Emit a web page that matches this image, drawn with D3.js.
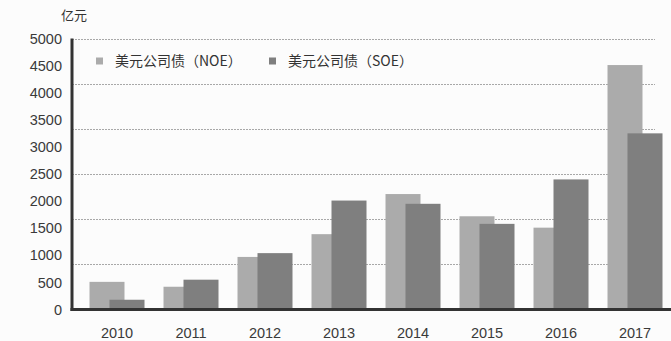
<!DOCTYPE html>
<html>
<head>
<meta charset="utf-8">
<script src="https://cdn.jsdelivr.net/npm/d3@7/dist/d3.min.js"></script>
<style>
  html, body { margin: 0; padding: 0; background: #fcfcfc; }
  svg { display: block; }
</style>
</head>
<body>
<svg id="chart" width="671" height="341"></svg>
<script>
// Annual USD corporate bond issuance, 亿元
const years = ["2010", "2011", "2012", "2013", "2014", "2015", "2016", "2017"];
const noeValues = [510, 420, 970, 1390, 2130, 1720, 1510, 4510];
const soeValues = [180, 550, 1040, 2010, 1950, 1580, 2400, 3250];
const seriesNames = ["美元公司债（NOE）", "美元公司债（SOE）"];
const yTicks = [0, 500, 1000, 1500, 2000, 2500, 3000, 3500, 4000, 4500, 5000];
const gridLevels = [5000 / 6, 10000 / 6, 15000 / 6, 20000 / 6, 25000 / 6, 5000];

const colors = ["#ababab", "#7f7f7f"];
const latinFont = "'Liberation Sans', Arial, sans-serif";
const cjkFont = "'Noto Sans CJK SC', sans-serif";

const svg = d3.select("#chart");
const plotLeft = 72, plotBottom = 309.5, plotTop = 38.5;

const y = d3.scaleLinear().domain([0, 5000]).range([plotBottom, plotTop]);
const x = d3.scaleBand().domain(years).range([80, 672]).padding(0);
const barW = 35;
// SOE bar overlaps the NOE bar, shifted right
const xSeries = d3.scalePoint().domain([0, 1]).range([0, 20]);
const groupW = 20 + barW;

// dashed grid lines
svg.append("g")
  .selectAll("line")
  .data(gridLevels)
  .join("line")
  .attr("x1", plotLeft)
  .attr("x2", 655)
  .attr("y1", d => Math.round(y(d)) + 0.5)
  .attr("y2", d => Math.round(y(d)) + 0.5)
  .attr("stroke", "#a8a8a8")
  .attr("stroke-width", 1)
  .attr("stroke-dasharray", "2,1");

// bars
const series = [noeValues, soeValues];
series.forEach((vals, si) => {
  svg.append("g")
    .selectAll("rect")
    .data(years.map((yr, i) => ({ yr, v: vals[i] })))
    .join("rect")
    .attr("x", d => x(d.yr) + (x.bandwidth() - groupW) / 2 + xSeries(si))
    .attr("y", d => y(d.v))
    .attr("width", barW)
    .attr("height", d => plotBottom - y(d.v))
    .attr("fill", colors[si]);
});

// y axis
const yAxis = d3.axisLeft(y).tickValues(yTicks).tickFormat(d3.format("d"))
  .tickSize(0).tickPadding(10);
const gy = svg.append("g").attr("transform", `translate(${plotLeft},0)`).call(yAxis)
  .attr("font-family", latinFont).attr("font-size", "14.5px");
gy.select(".domain").remove();
gy.selectAll("text").attr("fill", "#3a3a3a");
svg.append("line")
  .attr("x1", plotLeft).attr("x2", plotLeft)
  .attr("y1", plotTop).attr("y2", plotBottom + 1.5)
  .attr("stroke", "#333").attr("stroke-width", 3);

// x axis
const xAxis = d3.axisBottom(x).tickSize(0).tickPadding(18);
const gx = svg.append("g").attr("transform", `translate(0,${plotBottom})`).call(xAxis)
  .attr("font-family", latinFont).attr("font-size", "14.5px");
gx.select(".domain").remove();
gx.selectAll("text").attr("fill", "#3a3a3a");
svg.append("line")
  .attr("x1", plotLeft - 1.5).attr("x2", 671)
  .attr("y1", plotBottom).attr("y2", plotBottom)
  .attr("stroke", "#333").attr("stroke-width", 3);

// unit label
svg.append("text")
  .attr("x", 61).attr("y", 20)
  .attr("font-family", cjkFont)
  .attr("font-size", "13px")
  .attr("fill", "#333")
  .text("亿元");

// legend
const legendX = [96, 269];
const legend = svg.append("g")
  .selectAll("g")
  .data(seriesNames)
  .join("g")
  .attr("transform", (d, i) => `translate(${legendX[i]},61)`);
legend.append("rect")
  .attr("x", 0).attr("y", -3.5)
  .attr("width", 7).attr("height", 7)
  .attr("fill", (d, i) => colors[i]);
legend.append("text")
  .attr("x", 19).attr("y", 0)
  .attr("dy", "0.36em")
  .attr("font-family", cjkFont)
  .attr("font-size", "14px")
  .attr("fill", "#333")
  .text(d => d);
</script>
</body>
</html>
